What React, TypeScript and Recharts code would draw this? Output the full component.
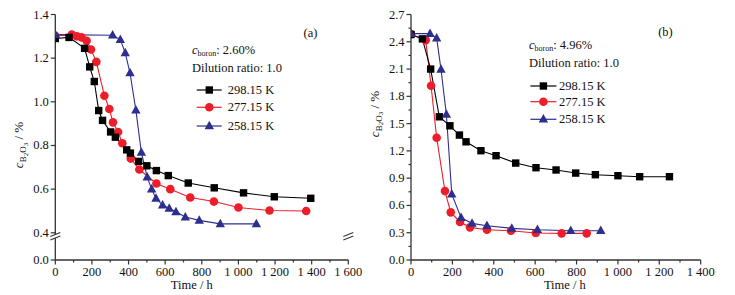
import React from 'react';
import { LineChart, Line, XAxis, YAxis, Legend, Label } from 'recharts';

const FONT = '"Liberation Serif", "Times New Roman", serif';
const FS = 12.5;
const AXIS = '#333';
const BLACK = '#000000';
const RED = '#ee1d2a';
const BLUE = '#2c2f8e';

// ---------- Panel (a): c_boron 2.60 % ----------
const timeA298 = [0, 75, 160, 188, 213, 237, 258, 302, 328, 390, 410, 455, 500, 552, 617, 726, 868, 1028, 1196, 1395];
const concA298 = [1.29, 1.295, 1.245, 1.16, 1.093, 0.96, 0.915, 0.862, 0.838, 0.78, 0.765, 0.727, 0.707, 0.685, 0.662, 0.628, 0.606, 0.583, 0.565, 0.558];
const timeA277 = [0, 90, 117, 144, 171, 195, 224, 268, 295, 315, 343, 366, 412, 459, 552, 628, 737, 866, 1000, 1170, 1370];
const concA277 = [1.302, 1.308, 1.3, 1.295, 1.28, 1.24, 1.183, 1.028, 0.967, 0.906, 0.862, 0.81, 0.74, 0.69, 0.626, 0.6, 0.562, 0.543, 0.516, 0.502, 0.5];
const timeA258 = [0, 313, 355, 382, 408, 440, 470, 502, 526, 550, 586, 622, 659, 710, 786, 901, 1098];
const concA258 = [1.308, 1.305, 1.285, 1.224, 1.132, 0.962, 0.768, 0.655, 0.6, 0.557, 0.527, 0.511, 0.496, 0.472, 0.457, 0.441, 0.441];

// ---------- Panel (b): c_boron 4.96 % ----------
const timeB298 = [0, 55, 95, 137, 188, 234, 266, 338, 411, 506, 604, 701, 796, 891, 1000, 1105, 1249];
const concB298 = [2.48, 2.432, 2.1, 1.575, 1.476, 1.374, 1.3, 1.202, 1.147, 1.066, 1.015, 0.99, 0.956, 0.938, 0.927, 0.916, 0.916];
const timeB277 = [0, 71, 97, 124, 164, 192, 237, 285, 367, 483, 603, 728, 849];
const concB277 = [2.484, 2.418, 1.916, 1.345, 0.758, 0.524, 0.418, 0.359, 0.333, 0.322, 0.297, 0.293, 0.293];
const timeB258 = [0, 92, 124, 145, 171, 197, 242, 295, 367, 487, 611, 772, 917];
const concB258 = [2.49, 2.49, 2.44, 2.096, 1.6, 0.725, 0.465, 0.403, 0.377, 0.348, 0.333, 0.322, 0.322];

// ---------- ticks & labels ----------
const xTicksA = [0, 100, 200, 300, 400, 500, 600, 700, 800, 900, 1000, 1100, 1200, 1300, 1400, 1500, 1600];
const xTicksB = [0, 100, 200, 300, 400, 500, 600, 700, 800, 900, 1000, 1100, 1200, 1300, 1400];
const yTicksA = [0, 0.4, 0.6, 0.8, 1.0, 1.2, 1.4];
const yTicksB = [0, 0.15, 0.3, 0.45, 0.6, 0.75, 0.9, 1.05, 1.2, 1.35, 1.5, 1.65, 1.8, 1.95, 2.1, 2.25, 2.4, 2.55, 2.7];
const yMajorB = [0, 0.3, 0.6, 0.9, 1.2, 1.5, 1.8, 2.1, 2.4, 2.7];
const seriesNames = ['298.15 K', '277.15 K', '258.15 K'];
const seriesColors = [BLACK, RED, BLUE];
const boronA = '2.60%';
const boronB = '4.96%';
const dilution = 'Dilution ratio: 1.0';

const toRows = (t: number[], c: number[]) => t.map((x, i) => ({ t: x, c: c[i] }));

// piecewise (broken) y scale: [0, breakVal] squeezed into the lower `frac` of the axis
function brokenScale(breakVal: number, frac: number): any {
  let dom: number[] = [0, 1];
  let rng: number[] = [0, 1];
  const s: any = (v: number) => {
    const d0 = dom[0];
    const d1 = dom[dom.length - 1];
    const r0 = rng[0];
    const r1 = rng[rng.length - 1];
    let f: number;
    if (v <= breakVal) f = ((v - d0) / (breakVal - d0)) * frac;
    else f = frac + ((v - breakVal) / (d1 - breakVal)) * (1 - frac);
    return r0 + f * (r1 - r0);
  };
  s.domain = (d?: any) => {
    if (d === undefined) return dom.slice();
    dom = Array.from(d as number[], Number);
    return s;
  };
  s.range = (r?: any) => {
    if (r === undefined) return rng.slice();
    rng = Array.from(r as number[], Number);
    return s;
  };
  s.invert = (px: number) => {
    const r0 = rng[0];
    const r1 = rng[rng.length - 1];
    const f = (px - r0) / (r1 - r0);
    const d0 = dom[0];
    const d1 = dom[dom.length - 1];
    if (f <= frac) return d0 + (f / frac) * (breakVal - d0);
    return breakVal + ((f - frac) / (1 - frac)) * (d1 - breakVal);
  };
  s.copy = () => brokenScale(breakVal, frac).domain(dom).range(rng);
  s.ticks = () => yTicksA;
  s.tickFormat = () => (v: number) => v.toFixed(1);
  s.clamp = () => s;
  s.nice = () => s;
  s.unknown = () => s;
  return s;
}

const fmtTime = (v: number) => (v >= 1000 ? `${Math.floor(v / 1000)} ${String(v % 1000).padStart(3, '0')}` : String(v));

const makeXTick = (majorStep: number) => (props: any) => {
  const { x, y, payload } = props;
  const v = payload.value;
  const major = v % majorStep === 0;
  return (
    <g>
      <line x1={x} y1={y} x2={x} y2={y + (major ? 4.5 : 2.5)} stroke={AXIS} strokeWidth={1.2} />
      {major && (
        <text x={x} y={y + 11.5} textAnchor="middle" dominantBaseline="central" fontSize={FS} fontFamily={FONT} fill="#111">
          {fmtTime(v)}
        </text>
      )}
    </g>
  );
};

const makeYTick = (majors: number[] | null) => (props: any) => {
  const { x, y, payload } = props;
  const v = payload.value;
  const major = majors ? majors.some((m) => Math.abs(m - v) < 1e-6) : true;
  return (
    <g>
      <line x1={x} y1={y} x2={x - (major ? 4.5 : 2.5)} y2={y} stroke={AXIS} strokeWidth={1.2} />
      {major && (
        <text x={x - 6.5} y={y} textAnchor="end" dominantBaseline="central" fontSize={FS} fontFamily={FONT} fill="#111">
          {v.toFixed(1)}
        </text>
      )}
    </g>
  );
};

const Square = ({ cx, cy, color }: any) => <rect x={cx - 3.7} y={cy - 3.7} width={7.4} height={7.4} fill={color} />;
const Circle = ({ cx, cy, color }: any) => <circle cx={cx} cy={cy} r={4.3} fill={color} />;
const Tri = ({ cx, cy, color }: any) => (
  <polygon points={`${cx},${cy - 5.2} ${cx + 4.7},${cy + 3.3} ${cx - 4.7},${cy + 3.3}`} fill={color} />
);
const markers = [Square, Circle, Tri];

const dotFn = (idx: number) => (p: any) => {
  const M = markers[idx];
  return <M key={`d${idx}-${p.index}`} cx={p.cx} cy={p.cy} color={seriesColors[idx]} />;
};

const YTitle = ({ x, y }: { x: number; y: number }) => (
  <text transform={`translate(${x},${y}) rotate(-90)`} textAnchor="middle" fontSize={13} fontFamily={FONT} fill="#111">
    <tspan fontStyle="italic">c</tspan>
    <tspan dy={3} fontSize={9}>B</tspan>
    <tspan dy={1.5} fontSize={7}>2</tspan>
    <tspan dy={-1.5} fontSize={9}>O</tspan>
    <tspan dy={1.5} fontSize={7}>3</tspan>
    <tspan dy={-4.5}> / %</tspan>
  </text>
);

type LegCfg = { boron: string; tag: string; rows: number[]; lineX: [number, number]; markX: number; textX: number; tagX: number; tagY: number };

const makeLegend = (cfg: LegCfg) => () => (
  <svg width={160} height={100} style={{ display: 'block', overflow: 'visible' }}>
    <text x={2} y={12} dominantBaseline="central" fontSize={FS} fontFamily={FONT} fill="#111">
      <tspan fontStyle="italic">c</tspan>
      <tspan dy={3} fontSize={8}>boron</tspan>
      <tspan dy={-3}>: {cfg.boron}</tspan>
    </text>
    <text x={2} y={30} dominantBaseline="central" fontSize={FS} fontFamily={FONT} fill="#111">
      {dilution}
    </text>
    {seriesNames.map((name, i) => {
      const M = markers[i];
      const y = cfg.rows[i];
      return (
        <g key={name}>
          <line x1={cfg.lineX[0]} y1={y} x2={cfg.lineX[1]} y2={y} stroke={seriesColors[i]} strokeWidth={1.2} />
          <M cx={cfg.markX} cy={y} color={seriesColors[i]} />
          <text x={cfg.textX} y={y} dominantBaseline="central" fontSize={FS} fontFamily={FONT} fill="#111">
            {name}
          </text>
        </g>
      );
    })}
    <text x={cfg.tagX} y={cfg.tagY} textAnchor="middle" dominantBaseline="central" fontSize={FS} fontFamily={FONT} fill="#111">
      {cfg.tag}
    </text>
  </svg>
);

const legendA = makeLegend({ boron: boronA, tag: '(a)', rows: [52, 69.3, 88], lineX: [6.7, 31.7], markX: 19.3, textX: 37.7, tagX: 120.5, tagY: -5.3 });
const legendB = makeLegend({ boron: boronB, tag: '(b)', rows: [53, 68.7, 86.3], lineX: [3.4, 29.4], markX: 16.4, textX: 32, tagX: 138.5, tagY: -1.3 });

const XTitle = (offsetX: number) => (props: any) => {
  const vb = props.viewBox;
  return (
    <text x={vb.x + vb.width / 2 + offsetX} y={285} textAnchor="middle" dominantBaseline="central" fontSize={FS} fontFamily={FONT} fill="#111">
      Time / h
    </text>
  );
};

const scaleA = brokenScale(0.4, 27.2 / 245.5);

export default function App() {
  const dataA = [toRows(timeA298, concA298), toRows(timeA277, concA277), toRows(timeA258, concA258)];
  const dataB = [toRows(timeB298, concB298), toRows(timeB277, concB277), toRows(timeB258, concB258)];
  const order = [1, 0, 2];

  const breakMark = (x: number, y: number) => (
    <g key={`b${x}`}>
      <polygon points={`${x - 5},${y + 1.5} ${x + 5},${y - 2.5} ${x + 5},${y + 1} ${x - 5},${y + 5}`} fill="#fff" />
      <line x1={x - 5} y1={y + 1.5} x2={x + 5} y2={y - 2.5} stroke={AXIS} strokeWidth={1.1} />
      <line x1={x - 5} y1={y + 5} x2={x + 5} y2={y + 1} stroke={AXIS} strokeWidth={1.1} />
    </g>
  );

  return (
    <div style={{ position: 'absolute', left: 0, top: 0, width: 735, height: 295, background: '#fff', fontFamily: FONT }}>
      <div style={{ position: 'absolute', left: 0, top: 0 }}>
        <LineChart width={365} height={295} margin={{ top: 14.5, right: 16.7, bottom: 0, left: 0 }}>
          <XAxis xAxisId="top" orientation="top" type="number" dataKey="t" domain={[0, 1600]} height={0} tick={false} tickLine={false} axisLine={{ stroke: AXIS, strokeWidth: 1.2 }} />
          <YAxis yAxisId="right" orientation="right" type="number" domain={[0, 1.4]} width={0} tick={false} tickLine={false} axisLine={{ stroke: AXIS, strokeWidth: 1.2 }} />
          <XAxis
            type="number"
            dataKey="t"
            domain={[0, 1600]}
            ticks={xTicksA}
            interval={0}
            height={35}
            tickSize={0}
            tickMargin={0}
            tickLine={false}
            axisLine={{ stroke: AXIS, strokeWidth: 1.3 }}
            tick={makeXTick(200)}
            allowDataOverflow
          >
            <Label content={XTitle(-10)} />
          </XAxis>
          <YAxis
            type="number"
            domain={[0, 1.4]}
            scale={scaleA}
            ticks={yTicksA}
            interval={0}
            width={55.3}
            tickSize={0}
            tickMargin={0}
            tickLine={false}
            axisLine={{ stroke: AXIS, strokeWidth: 1.3 }}
            tick={makeYTick(null)}
            allowDataOverflow
          >
            <Label content={() => <YTitle x={23} y={145} />} />
          </YAxis>
          {order.map((i) => (
            <Line
              key={seriesNames[i]}
              data={dataA[i]}
              dataKey="c"
              name={seriesNames[i]}
              stroke={seriesColors[i]}
              strokeWidth={1.1}
              dot={dotFn(i)}
              activeDot={false}
              isAnimationActive={false}
            />
          ))}
          <Legend layout="horizontal" verticalAlign="middle" align="center" content={legendA} wrapperStyle={{ left: 190, top: 38, width: 160, height: 100 }} />
        </LineChart>
      </div>
      <div style={{ position: 'absolute', left: 365, top: 0 }}>
        <LineChart width={370} height={295} margin={{ top: 14.5, right: 34.3, bottom: 0, left: 0 }}>
          <XAxis xAxisId="top" orientation="top" type="number" dataKey="t" domain={[0, 1400]} height={0} tick={false} tickLine={false} axisLine={{ stroke: AXIS, strokeWidth: 1.2 }} />
          <YAxis yAxisId="right" orientation="right" type="number" domain={[0, 2.7]} width={0} tick={false} tickLine={false} axisLine={{ stroke: AXIS, strokeWidth: 1.2 }} />
          <XAxis
            type="number"
            dataKey="t"
            domain={[0, 1400]}
            ticks={xTicksB}
            interval={0}
            height={35}
            tickSize={0}
            tickMargin={0}
            tickLine={false}
            axisLine={{ stroke: AXIS, strokeWidth: 1.3 }}
            tick={makeXTick(200)}
            allowDataOverflow
          >
            <Label content={XTitle(9)} />
          </XAxis>
          <YAxis
            type="number"
            domain={[0, 2.7]}
            ticks={yTicksB}
            interval={0}
            width={46}
            tickSize={0}
            tickMargin={0}
            tickLine={false}
            axisLine={{ stroke: AXIS, strokeWidth: 1.3 }}
            tick={makeYTick(yMajorB)}
            allowDataOverflow
          >
            <Label content={() => <YTitle x={13.5} y={114} />} />
          </YAxis>
          {order.map((i) => (
            <Line
              key={seriesNames[i]}
              data={dataB[i]}
              dataKey="c"
              name={seriesNames[i]}
              stroke={seriesColors[i]}
              strokeWidth={1.1}
              dot={dotFn(i)}
              activeDot={false}
              isAnimationActive={false}
            />
          ))}
          <Legend layout="horizontal" verticalAlign="middle" align="center" content={legendB} wrapperStyle={{ left: 162.3, top: 33, width: 160, height: 100 }} />
        </LineChart>
      </div>
      <svg width={735} height={295} style={{ position: 'absolute', left: 0, top: 0, pointerEvents: 'none' }}>
        {breakMark(55.3, 235)}
        {breakMark(348.3, 235)}
      </svg>
    </div>
  );
}
